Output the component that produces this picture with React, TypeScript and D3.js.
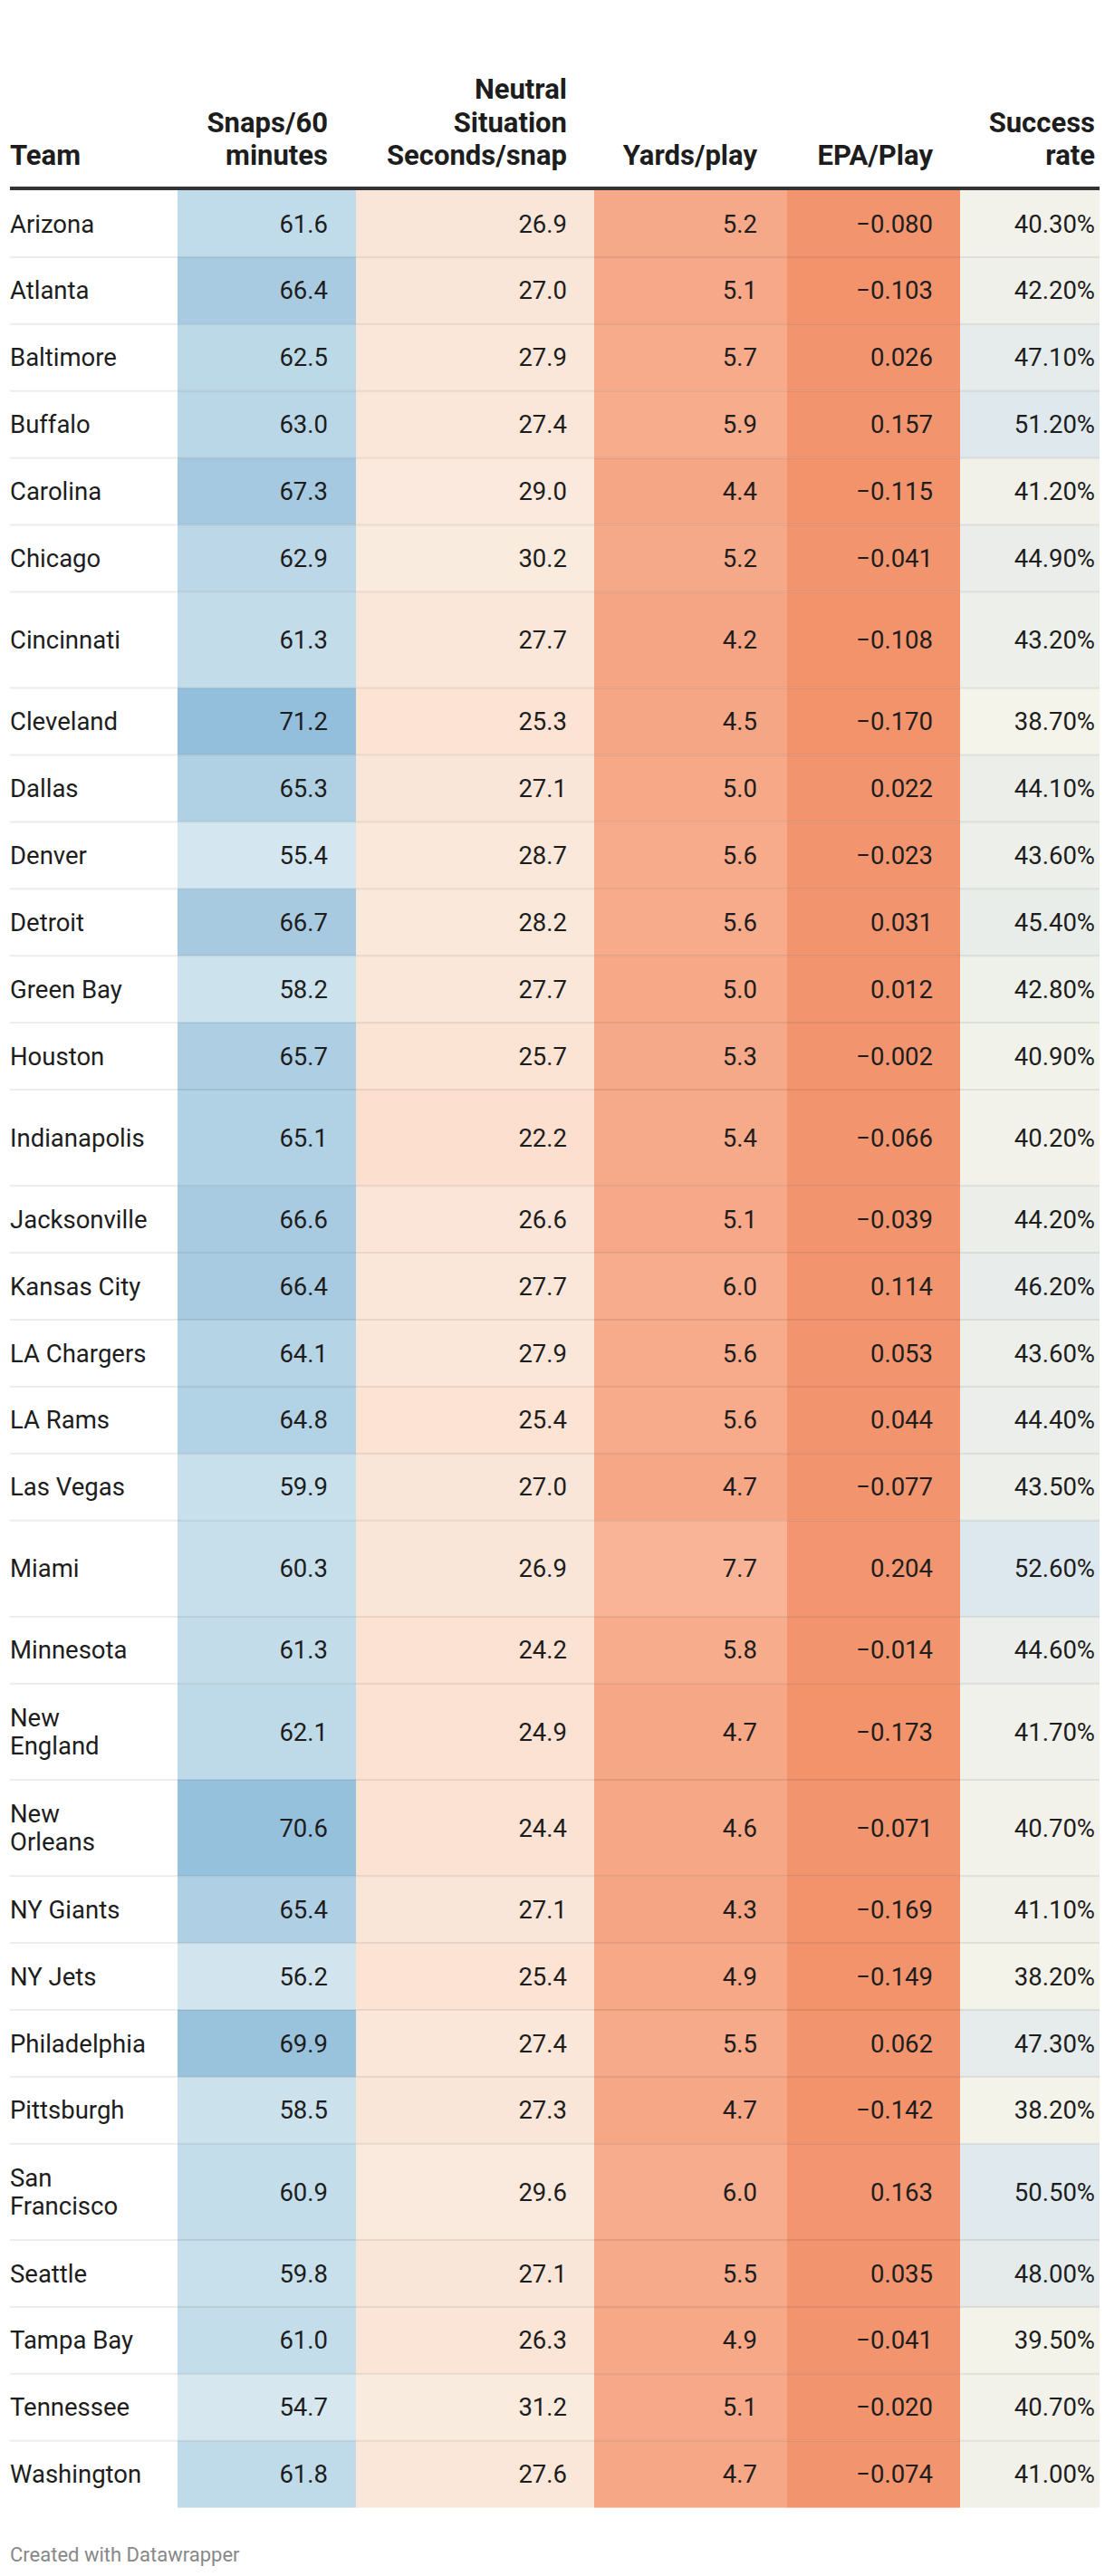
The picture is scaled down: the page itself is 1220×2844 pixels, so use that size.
import React from "react";
import * as d3 from "d3";

// ---------- data ----------
const teams = [
  "Arizona", "Atlanta", "Baltimore", "Buffalo", "Carolina", "Chicago", "Cincinnati", "Cleveland",
  "Dallas", "Denver", "Detroit", "Green Bay", "Houston", "Indianapolis", "Jacksonville", "Kansas City",
  "LA Chargers", "LA Rams", "Las Vegas", "Miami", "Minnesota", "New England", "New Orleans", "NY Giants",
  "NY Jets", "Philadelphia", "Pittsburgh", "San Francisco", "Seattle", "Tampa Bay", "Tennessee", "Washington",
];
const snaps = [61.6, 66.4, 62.5, 63.0, 67.3, 62.9, 61.3, 71.2, 65.3, 55.4, 66.7, 58.2, 65.7, 65.1, 66.6, 66.4,
  64.1, 64.8, 59.9, 60.3, 61.3, 62.1, 70.6, 65.4, 56.2, 69.9, 58.5, 60.9, 59.8, 61.0, 54.7, 61.8];
const neutral = [26.9, 27.0, 27.9, 27.4, 29.0, 30.2, 27.7, 25.3, 27.1, 28.7, 28.2, 27.7, 25.7, 22.2, 26.6, 27.7,
  27.9, 25.4, 27.0, 26.9, 24.2, 24.9, 24.4, 27.1, 25.4, 27.4, 27.3, 29.6, 27.1, 26.3, 31.2, 27.6];
const yards = [5.2, 5.1, 5.7, 5.9, 4.4, 5.2, 4.2, 4.5, 5.0, 5.6, 5.6, 5.0, 5.3, 5.4, 5.1, 6.0,
  5.6, 5.6, 4.7, 7.7, 5.8, 4.7, 4.6, 4.3, 4.9, 5.5, 4.7, 6.0, 5.5, 4.9, 5.1, 4.7];
const epa = [-0.080, -0.103, 0.026, 0.157, -0.115, -0.041, -0.108, -0.170, 0.022, -0.023, 0.031, 0.012, -0.002,
  -0.066, -0.039, 0.114, 0.053, 0.044, -0.077, 0.204, -0.014, -0.173, -0.071, -0.169, -0.149, 0.062, -0.142,
  0.163, 0.035, -0.041, -0.020, -0.074];
const success = [40.3, 42.2, 47.1, 51.2, 41.2, 44.9, 43.2, 38.7, 44.1, 43.6, 45.4, 42.8, 40.9, 40.2, 44.2, 46.2,
  43.6, 44.4, 43.5, 52.6, 44.6, 41.7, 40.7, 41.1, 38.2, 47.3, 38.2, 50.5, 48.0, 39.5, 40.7, 41.0];

const headers = [
  ["Team"],
  ["Snaps/60", "minutes"],
  ["Neutral", "Situation", "Seconds/snap"],
  ["Yards/play"],
  ["EPA/Play"],
  ["Success", "rate"],
];
const tallRows = ["Cincinnati", "Indianapolis", "Miami", "New England", "New Orleans", "San Francisco"];
const wrapNames: Record<string, string[]> = {
  "New England": ["New", "England"],
  "New Orleans": ["New", "Orleans"],
  "San Francisco": ["San", "Francisco"],
};

// one colour scale shared by the whole table (orange = low, blue = high)
const colorDomain = [-0.2, 0.2, 4.2, 5.0, 7.7, 22.2, 25.3, 27.0, 31.2, 38.7, 40.5, 46.2, 52.6, 54.7, 60.3, 65.1, 66.4, 71.2];
const colorRange = ["#f2936b", "#f29570", "#f5a584", "#f6a887", "#f9b497", "#fcdfcf", "#fce3d4", "#fae6d9",
  "#f9ecdf", "#f4f4ea", "#f2f2ea", "#e8ecea", "#dce8ee", "#d6e7ef", "#c6dfeb", "#b1d1e5", "#a9cbe1", "#93bfdc"];

// ---------- layout ----------
const W = 1220;
const H = 2844;
const left = 11;
const right = 1214;
const bodyTop = 210;
const rowH = 73.9;
const tallH = 106.2;
const fs = 27.5;
const hfs = 31;
const FONT = "Roboto, 'Noto Sans', sans-serif";

const cols = [
  { x0: left, x1: 196, anchor: "start", tx: left },
  { x0: 196, x1: 393, anchor: "end", tx: 362 },
  { x0: 393, x1: 656, anchor: "end", tx: 626 },
  { x0: 656, x1: 869, anchor: "end", tx: 836 },
  { x0: 869, x1: 1060, anchor: "end", tx: 1030 },
  { x0: 1060, x1: right, anchor: "end", tx: 1209 },
];

const f1 = d3.format(".1f");
const f3 = d3.format(".3f");
const fpct = (v: number) => d3.format(".2f")(v) + "%";

export default function App() {
  const color = d3.scaleLinear<string>().domain(colorDomain).range(colorRange).interpolate(d3.interpolateRgb).clamp(true);

  const heights = teams.map((t) => (tallRows.includes(t) ? tallH : rowH));
  const tops = heights.map((_, i) => bodyTop + d3.sum(heights.slice(0, i)));

  const series = [snaps, neutral, yards, epa, success];
  const formats = [f1, f1, f1, f3, fpct];

  const headerBase = 182;
  const headerLH = 36.5;

  return (
    <div style={{ position: "absolute", left: 0, top: 0, width: W, height: H, background: "#fff" }}>
      <svg width={W} height={H} viewBox={`0 0 ${W} ${H}`} style={{ display: "block" }} fontFamily={FONT}>
        <rect x={0} y={0} width={W} height={H} fill="#fff" />
        {/* header */}
        {headers.map((lines, c) => (
          <text key={"h" + c} x={cols[c].tx} textAnchor={cols[c].anchor as any} fontSize={hfs} fontWeight={700} fill="#1d1d1d">
            {lines.map((l, k) => (
              <tspan key={k} x={cols[c].tx} y={headerBase - (lines.length - 1 - k) * headerLH}>
                {l}
              </tspan>
            ))}
          </text>
        ))}
        <rect x={left} y={206} width={right - left} height={4} fill="#333333" />

        {/* cells */}
        {teams.map((t, i) => (
          <g key={t}>
            {series.map((s, c) => (
              <rect key={c} x={cols[c + 1].x0} y={tops[i]} width={cols[c + 1].x1 - cols[c + 1].x0} height={heights[i]} fill={color(s[i])} />
            ))}
          </g>
        ))}
        {/* separators */}
        {teams.map((t, i) =>
          i === 0 ? null : (
            <rect key={"s" + t} x={left} y={tops[i] - 1} width={right - left} height={2} fill="rgba(0,0,0,0.075)" />
          )
        )}
        {/* texts */}
        {teams.map((t, i) => {
          const cy = tops[i] + heights[i] / 2;
          const lines = wrapNames[t] || [t];
          const lh = 31;
          return (
            <g key={"t" + t} fontSize={fs} fill="#1d1d1d">
              <text x={left} textAnchor="start">
                {lines.map((l, k) => (
                  <tspan key={k} x={left} y={cy + 0.35 * fs + (k - (lines.length - 1) / 2) * lh}>
                    {l}
                  </tspan>
                ))}
              </text>
              {series.map((s, c) => (
                <text key={c} x={cols[c + 1].tx} y={cy + 0.35 * fs} textAnchor="end">
                  {formats[c](s[i])}
                </text>
              ))}
            </g>
          );
        })}
        <text x={left} y={2828} fontSize={22} fill="#888888">
          Created with Datawrapper
        </text>
      </svg>
    </div>
  );
}
